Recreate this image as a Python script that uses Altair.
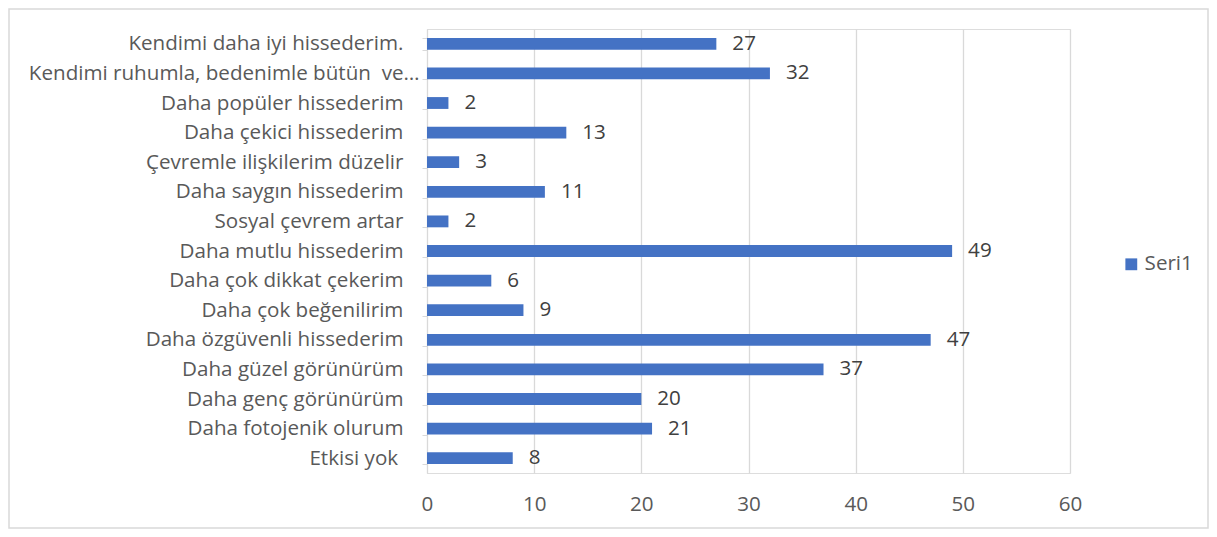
import altair as alt
import pandas as pd

categories = [
    "Kendimi daha iyi hissederim.",
    "Kendimi ruhumla, bedenimle bütün\u00a0 ve…",
    "Daha popüler hissederim",
    "Daha çekici hissederim",
    "Çevremle ilişkilerim düzelir",
    "Daha saygın hissederim",
    "Sosyal çevrem artar",
    "Daha mutlu hissederim",
    "Daha çok dikkat çekerim",
    "Daha çok beğenilirim",
    "Daha özgüvenli hissederim",
    "Daha güzel görünürüm",
    "Daha genç görünürüm",
    "Daha fotojenik olurum",
    "Etkisi yok\u00a0",
]
values = [27, 32, 2, 13, 3, 11, 2, 49, 6, 9, 47, 37, 20, 21, 8]
series_name = "Seri1"
x_ticks = [0, 10, 20, 30, 40, 50, 60]

df = pd.DataFrame({"cat": categories, "val": values, "series": series_name})

FONT = "Open Sans"
FS = 20.6
PL, PT, W, H = 419, 21, 643, 444
TOTAL_W, TOTAL_H = 1201, 521

y_enc = alt.Y(
    "cat:N",
    sort=categories,
    scale=alt.Scale(paddingInner=0.6, paddingOuter=0.3),
    axis=alt.Axis(
        title=None,
        labelLimit=0,
        labelFont=FONT,
        labelFontSize=FS,
        labelColor="#595959",
        labelPadding=3,
        labelExpr="indexof(datum.label, '…') >= 0 ? datum.label : datum.label + '\u00a0\u00a0\u00a0\u200b'",
        tickBand="extent",
        tickSize=5,
        tickColor="#d9d9d9",
        domainColor="#d9d9d9",
        grid=False,
    ),
)
x_enc = alt.X(
    "val:Q",
    scale=alt.Scale(domain=[0, 60], nice=False),
    axis=alt.Axis(
        title=None,
        values=x_ticks,
        labelFont=FONT,
        labelFontSize=FS,
        labelColor="#595959",
        labelPadding=21,
        labelFlush=False,
        ticks=False,
        domain=False,
        grid=True,
        gridColor="#d9d9d9",
        gridWidth=1.3,
    ),
)

bars = alt.Chart(df).mark_bar(color="#4472C4").encode(
    y=y_enc,
    x=x_enc,
    color=alt.Color(
        "series:N",
        scale=alt.Scale(range=["#4472C4"]),
        legend=alt.Legend(
            title=None,
            orient="none",
            legendX=694,
            legendY=225,
            symbolType="square",
            symbolSize=140,
            symbolStrokeWidth=0,
            labelFont=FONT,
            labelFontSize=FS,
            labelColor="#595959",
            labelOffset=3,
        ),
    ),
)

labels = alt.Chart(df).mark_text(
    align="left", baseline="middle", dx=16, font=FONT, fontSize=FS, color="#404040"
).encode(
    y=alt.Y("cat:N", sort=categories),
    x="val:Q",
    text="val:Q",
)

border = alt.Chart(alt.Data(values=[{}])).mark_rect(
    fill="transparent", stroke="#d9d9d9", strokeWidth=1.5
).encode(
    x=alt.value(-PL + 1),
    x2=alt.value(TOTAL_W - PL - 1),
    y=alt.value(-PT + 1),
    y2=alt.value(TOTAL_H - PT - 1),
)

chart = alt.layer(bars, labels, border).properties(
    width=W,
    height=H,
    autosize=alt.AutoSizeParams(type="none"),
    padding={"left": PL, "top": PT, "right": TOTAL_W - PL - W, "bottom": TOTAL_H - PT - H},
).configure_view(stroke=None).configure(background="white")

chart.save("out.html", embed_options={"renderer": "svg", "actions": False})
